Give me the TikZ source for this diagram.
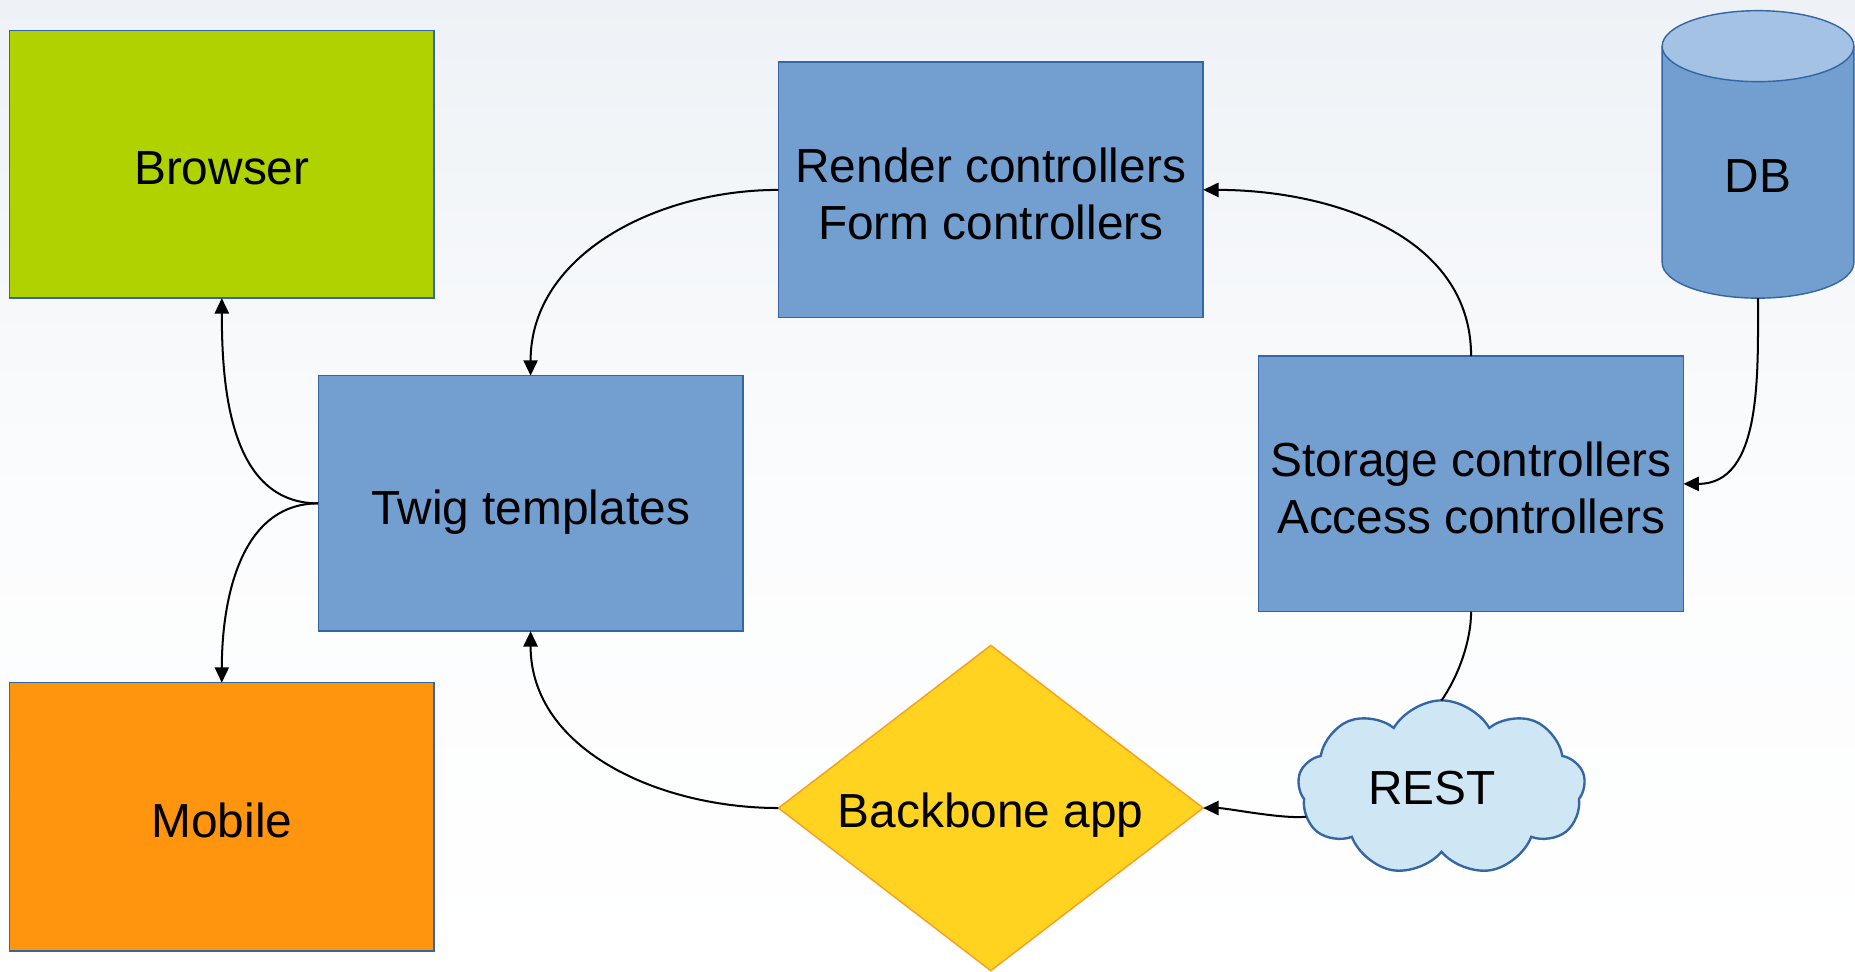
\documentclass[tikz,border=0pt]{standalone}
\usepackage{fontspec}
\setmainfont{Liberation Sans}
\usetikzlibrary{arrows.meta,shapes.geometric,shapes.symbols}
\definecolor{boxblue}{HTML}{729FCF}
\definecolor{edgeblue}{HTML}{3465A4}
\definecolor{browsergreen}{HTML}{B0D300}
\definecolor{mobileorange}{HTML}{FF950E}
\definecolor{bbyellow}{HTML}{FFD320}
\definecolor{bborange}{HTML}{F5A01E}
\definecolor{cloudfill}{HTML}{CFE7F5}
\definecolor{dbtop}{HTML}{A4C2E3}
\definecolor{sky}{HTML}{EEF2F6}
\tikzset{
  lbl/.style={font=\fontsize{11.5}{13.7}\selectfont, align=center},
  blockbox/.style={rectangle, draw=edgeblue, line width=0.12mm, inner sep=0pt, outer sep=0pt,
    minimum width=35.9mm, minimum height=21.6mm},
  conn/.style={line width=0.17mm, black},
  arr/.style={conn, -{Triangle[length=1.3mm,width=1.2mm]}}
}
\begin{document}
\begin{tikzpicture}[x=0.1mm,y=-0.1mm]
% background
\shade[top color=sky, bottom color=white, middle color=white!75!sky] (0,0) rectangle (1568,821);
\useasboundingbox (0,0) rectangle (1568,821);

% boxes
\node[blockbox, fill=browsergreen, minimum height=22.6mm,
  label={[lbl,yshift=-0.3mm]center:Browser}] (browser) at (187.5,139) {};
\node[blockbox, fill=mobileorange, minimum height=22.7mm,
  label={[lbl,yshift=-0.3mm]center:Mobile}] (mobile) at (187.5,690.5) {};
\node[blockbox, fill=boxblue,
  label={[lbl,yshift=-0.3mm]center:Render controllers\\Form controllers}] (render) at (837.5,160.5) {};
\node[blockbox, fill=boxblue,
  label={[lbl,yshift=-0.7mm]center:Twig templates}] (twig) at (448.5,425.5) {};
\node[blockbox, fill=boxblue,
  label={[lbl,yshift=-0.35mm]center:Storage controllers\\Access controllers}] (storage) at (1243.5,409) {};

% DB cylinder
\fill[boxblue] (1405,39) rectangle (1567,222);
\fill[boxblue] (1486,222) ellipse[x radius=8.1mm, y radius=3mm];
\draw[edgeblue, line width=0.12mm] (1405,39) -- (1405,222) arc[start angle=180, end angle=360, x radius=8.1mm, y radius=3mm] -- (1567,39);
\filldraw[fill=dbtop, draw=edgeblue, line width=0.12mm] (1486,39) ellipse[x radius=8.1mm, y radius=3mm];
\node[lbl] (db) at (1486,149) {DB};
\coordinate (dbbottom) at (1486,252);

% Backbone diamond
\node[diamond, aspect=1.3, draw=bborange, fill=bbyellow, line width=0.12mm, inner sep=0pt, outer sep=0pt,
  minimum width=35.9mm, minimum height=27.5mm,
  label={[lbl,yshift=-0.6mm]center:Backbone app}] (backbone) at (837.5,683) {};

% REST cloud
\node[cloud, cloud puffs=9, cloud puff arc=120, aspect=1.64, draw=edgeblue, fill=cloudfill,
  line width=0.2mm, inner sep=0pt, outer sep=0pt, minimum width=24.3mm, minimum height=14.8mm,
  label={[lbl,xshift=-0.8mm]center:REST}] (rest) at (1218.5,666) {};

% connectors
\draw[arr] (render.west) to[out=180, in=90] (twig.north);
\draw[arr] (storage.north) to[out=90, in=0] (render.east);
\draw[arr] (dbbottom) to[out=-90, in=0] (storage.east);
\draw[conn] (storage.south) to[out=-90, in=55, looseness=0.8] (rest.north);
\draw[arr] (rest.192) to[out=186, in=0, looseness=0.6] (backbone.east);
\draw[arr] (backbone.west) to[out=180, in=-90] (twig.south);
\draw[arr] (twig.west) to[out=180, in=-90] (browser.south);
\draw[arr] (twig.west) to[out=180, in=90] (mobile.north);
\end{tikzpicture}
\end{document}
